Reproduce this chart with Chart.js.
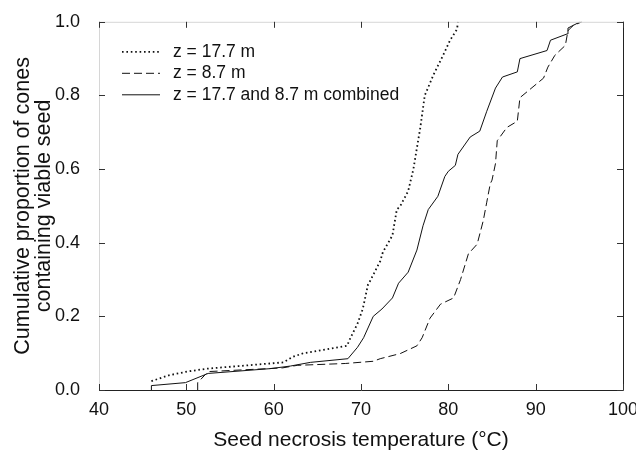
<!DOCTYPE html>
<html>
<head>
<meta charset="utf-8">
<script src="https://cdn.jsdelivr.net/npm/chart.js@4"></script>
<style>
  body { margin: 0; background: #fff; }
</style>
</head>
<body>
<canvas id="necrosis" width="636" height="458"></canvas>
<script>
'use strict';

// z = 17.7 m (dotted)
const temps17 = [46, 48, 50.1, 52.4, 56, 61.1, 62.2, 63.4, 66, 68.4, 68.8, 69.6, 70.2, 70.8, 71.0, 72.2, 72.5, 73.6, 74.1, 74.5, 75.4, 76.0, 76.8, 77.3, 78.3, 79.4, 80.2, 81.0, 81.1];
const props17 = [0.024, 0.04, 0.05, 0.058, 0.065, 0.075, 0.09, 0.10, 0.11, 0.12, 0.142, 0.18, 0.22, 0.286, 0.294, 0.35, 0.374, 0.42, 0.49, 0.5, 0.54, 0.6, 0.714, 0.80, 0.856, 0.909, 0.95, 0.98, 1.0];

// z = 8.7 m (dashed)
const temps8 = [51.3, 51.3, 52.5, 61, 62.7, 68.2, 71.4, 72.2, 74.5, 76.4, 77.0, 77.9, 79.1, 80.6, 81.4, 82.3, 83.3, 84.0, 84.4, 84.8, 85.0, 85.4, 85.6, 86.7, 87.9, 88.2, 90.9, 91.4, 92.2, 93.4, 93.7, 94.3, 95.3];
const props8 = [0, 0.02, 0.05, 0.06, 0.067, 0.072, 0.078, 0.085, 0.099, 0.12, 0.142, 0.195, 0.233, 0.25, 0.30, 0.37, 0.396, 0.46, 0.51, 0.56, 0.57, 0.615, 0.677, 0.713, 0.73, 0.794, 0.847, 0.877, 0.909, 0.936, 0.976, 0.99, 1.0];

// combined (solid)
const tempsAll = [46, 46, 49.9, 52.5, 59.6, 61.9, 64.2, 68.5, 69.6, 70.3, 71.4, 72.4, 73.6, 74.3, 75.4, 76.4, 77.1, 77.7, 78.8, 79.6, 80.0, 80.8, 81.1, 82.5, 83.6, 84.4, 85.4, 86.2, 87.9, 88.2, 91.3, 91.7, 93.6, 93.7, 95.1];
const propsAll = [0, 0.012, 0.02, 0.045, 0.058, 0.065, 0.075, 0.085, 0.116, 0.142, 0.2, 0.22, 0.25, 0.29, 0.32, 0.38, 0.446, 0.49, 0.526, 0.58, 0.594, 0.61, 0.64, 0.687, 0.703, 0.757, 0.82, 0.85, 0.864, 0.9, 0.922, 0.95, 0.967, 0.983, 1.0];

const xTicks = [40, 50, 60, 70, 80, 90, 100];
const yTicks = [0, 0.2, 0.4, 0.6, 0.8, 1.0];
const seriesLabels = ['z = 17.7 m', 'z = 8.7 m', 'z = 17.7 and 8.7 m combined'];

const toPoints = (xs, ys) => xs.map((x, i) => ({ x, y: ys[i] }));
const FONT = 'Arial, "Liberation Sans", Helvetica, sans-serif';

// frame with inward ticks + legend in the upper left
const frameAndLegend = {
  id: 'frameAndLegend',
  afterDraw(chart) {
    const { ctx, chartArea: a, scales: { x, y } } = chart;
    ctx.save();
    ctx.lineWidth = 1;
    // light top / left edges, dark bottom / right edges
    ctx.strokeStyle = '#d6d6d6';
    ctx.beginPath();
    ctx.moveTo(a.left + 0.5, a.bottom);
    ctx.lineTo(a.left + 0.5, a.top + 0.5);
    ctx.lineTo(a.right, a.top + 0.5);
    ctx.stroke();
    ctx.strokeStyle = '#222';
    ctx.beginPath();
    ctx.moveTo(a.left, a.bottom + 0.5);
    ctx.lineTo(a.right + 0.5, a.bottom + 0.5);
    ctx.lineTo(a.right + 0.5, a.top);
    ctx.stroke();

    const tl = 6;
    ctx.strokeStyle = '#333';
    ctx.beginPath();
    xTicks.forEach(v => {
      const px = Math.round(x.getPixelForValue(v)) + 0.5;
      ctx.moveTo(px, a.bottom);
      ctx.lineTo(px, a.bottom - tl);
      ctx.moveTo(px, a.top);
      ctx.lineTo(px, a.top + tl);
    });
    yTicks.forEach(v => {
      const py = Math.round(y.getPixelForValue(v)) + 0.5;
      ctx.moveTo(a.left, py);
      ctx.lineTo(a.left + tl, py);
      ctx.moveTo(a.right, py);
      ctx.lineTo(a.right - tl, py);
    });
    ctx.stroke();

    // legend
    ctx.font = '17.5px ' + FONT;
    ctx.textBaseline = 'middle';
    ctx.fillStyle = '#111';
    chart.data.datasets.forEach((ds, i) => {
      const ly = a.top + 30 + i * 21.5;
      ctx.strokeStyle = ds.borderColor;
      ctx.lineWidth = ds.borderWidth;
      ctx.setLineDash(ds.borderDash || []);
      ctx.beginPath();
      ctx.moveTo(a.left + 23, ly);
      ctx.lineTo(a.left + 61, ly);
      ctx.stroke();
      ctx.setLineDash([]);
      ctx.fillText(ds.label, a.left + 74, ly);
    });
    ctx.restore();
  },
};

const ctx = document.getElementById('necrosis').getContext('2d');
new Chart(ctx, {
  type: 'line',
  data: {
    datasets: [
      {
        label: seriesLabels[0],
        data: toPoints(temps17, props17),
        borderColor: '#111',
        borderWidth: 1.8,
        borderDash: [1.6, 2.8],
      },
      {
        label: seriesLabels[1],
        data: toPoints(temps8, props8),
        borderColor: '#111',
        borderWidth: 1,
        borderDash: [8, 4],
      },
      {
        label: seriesLabels[2],
        data: toPoints(tempsAll, propsAll),
        borderColor: '#111',
        borderWidth: 1,
      },
    ],
  },
  options: {
    responsive: false,
    animation: false,
    parsing: false,
    elements: { point: { radius: 0 }, line: { tension: 0 } },
    layout: { padding: { top: 16, right: 13, left: 0, bottom: 0 } },
    plugins: { legend: { display: false }, tooltip: { enabled: false } },
    scales: {
      x: {
        type: 'linear',
        min: 40,
        max: 100,
        afterBuildTicks: s => { s.ticks = xTicks.map(v => ({ value: v })); },
        afterFit: s => {
          s.height = 68;
          s.paddingLeft = 0;
          s.paddingRight = 0;
        },
        grid: { display: false },
        border: { display: false },
        ticks: { color: '#111', padding: 1, maxRotation: 0, font: { family: FONT, size: 18 } },
        title: {
          display: true,
          text: 'Seed necrosis temperature (°C)',
          color: '#111',
          font: { family: FONT, size: 21 },
          padding: { top: 0, bottom: 5 },
        },
      },
      y: {
        min: 0,
        max: 1,
        afterBuildTicks: s => { s.ticks = yTicks.map(v => ({ value: v })); },
        afterFit: s => { s.width = 99; },
        grid: { display: false },
        border: { display: false },
        ticks: {
          color: '#111',
          padding: 11,
          font: { family: FONT, size: 18 },
          callback: v => v.toFixed(1),
        },
        title: {
          display: true,
          text: ['Cumulative proportion of cones', 'containing viable seed'],
          color: '#111',
          font: { family: FONT, size: 21.5, lineHeight: 1.0 },
          padding: { top: 12, bottom: 0 },
        },
      },
    },
  },
  plugins: [frameAndLegend],
});
</script>
</body>
</html>
